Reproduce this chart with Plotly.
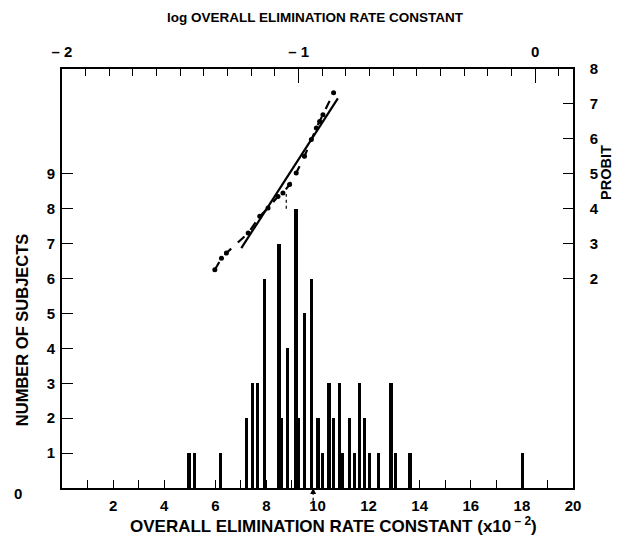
import plotly.graph_objects as go

# ---- data ----
# histogram: overall elimination rate constant (x10^-2) and number of subjects
rate_k = [4.97, 5.18, 6.21, 7.23, 7.45, 7.66, 7.92, 8.49, 8.60, 8.83, 9.16, 9.25,
          9.48, 9.76, 10.02, 10.20, 10.45, 10.63, 10.86, 10.99, 11.24, 11.45,
          11.65, 11.85, 12.04, 12.40, 12.88, 13.05, 13.62, 18.03]
n_subjects = [1, 1, 1, 2, 3, 3, 6, 7, 2, 4, 8, 2,
              5, 6, 2, 1, 3, 2, 3, 1, 2, 1,
              3, 2, 1, 1, 3, 1, 1, 1]

# probit plot (top log axis, right probit axis)
dot_log = [-1.326, -1.305, -1.213, -1.164, -1.129, -1.087, -1.066, -1.038,
           -1.010, -0.975, -0.946, -0.925, -0.911, -0.897]
dot_probit = [2.58, 2.73, 3.30, 3.78, 4.02, 4.35, 4.45, 4.69,
              5.02, 5.50, 5.98, 6.31, 6.50, 6.69]
dash_log = [-1.354] + dot_log + [-0.852]
dash_probit = [2.25] + dot_probit + [7.32]
fit_log = [-1.242, -0.834]
fit_probit = [2.87, 7.16]
mark_log = [-1.052, -1.052]
mark_probit = [4.0, 4.42]
mean_rate = 9.83

x_ticks = [2, 4, 6, 8, 10, 12, 14, 16, 18, 20]
x_minor = [1, 3, 5, 7, 9, 11, 13, 15, 17, 19]
y_ticks = [1, 2, 3, 4, 5, 6, 7, 8, 9]
probit_ticks = [2, 3, 4, 5, 6, 7, 8]
log_ticks = [-2, -1, 0]
log_ticktext = ["– 2", "– 1", "0"]
log_minor = [round(-2 + 0.1 * i, 1) for i in range(22)]

FONT = "Liberation Sans, Arial, sans-serif"

fig = go.Figure()
fig.add_trace(go.Bar(x=rate_k, y=n_subjects, width=0.13,
                     marker=dict(color="black", line=dict(width=0)),
                     xaxis="x", yaxis="y", showlegend=False))
fig.add_trace(go.Scatter(x=fit_log, y=fit_probit, mode="lines",
                         line=dict(color="black", width=2.2),
                         xaxis="x2", yaxis="y2", showlegend=False))
fig.add_trace(go.Scatter(x=dash_log, y=dash_probit, mode="lines+markers",
                         line=dict(color="black", width=2.2, dash="dash"),
                         marker=dict(color="black", size=5),
                         xaxis="x2", yaxis="y2", showlegend=False))
fig.add_trace(go.Scatter(x=mark_log, y=mark_probit, mode="lines",
                         line=dict(color="black", width=1.2, dash="dot"),
                         xaxis="x2", yaxis="y2", showlegend=False))

tickfont = dict(family=FONT, size=15, color="black", weight="bold")

# the page body adds an 8px offset, so the figure is 8px smaller than the window
fig.update_layout(
    width=618, height=531,
    margin=dict(l=54, r=53, t=61, b=51, autoexpand=False),
    paper_bgcolor="white", plot_bgcolor="white",
    bargap=0,
    xaxis=dict(range=[0, 20], tickmode="array", tickvals=x_ticks,
               ticks="inside", ticklen=8, tickwidth=1.3, tickcolor="black",
               minor=dict(tickmode="array", tickvals=x_minor, ticks="inside",
                          ticklen=8, tickwidth=1.3, tickcolor="black"),
               showline=True, linecolor="black", linewidth=1.6,
               showgrid=False, zeroline=False, tickfont=tickfont,
               ticklabelstandoff=3, automargin=False),
    xaxis2=dict(range=[-2, 0.16], overlaying="x", side="top", anchor="y",
                tickmode="array", tickvals=log_ticks, ticktext=log_ticktext,
                ticks="inside", ticklen=14, tickwidth=1.3, tickcolor="black",
                minor=dict(tickmode="array", tickvals=log_minor, ticks="inside",
                           ticklen=7, tickwidth=1.3, tickcolor="black"),
                showline=True, linecolor="black", linewidth=1.6,
                showgrid=False, zeroline=False, tickfont=tickfont,
                ticklabelstandoff=4, automargin=False),
    yaxis=dict(range=[0, 12], tickmode="array", tickvals=y_ticks,
               ticks="inside", ticklen=11, tickwidth=1.3, tickcolor="black",
               showline=True, linecolor="black", linewidth=1.6,
               showgrid=False, zeroline=False, tickfont=tickfont,
               ticklabelstandoff=2, automargin=False),
    yaxis2=dict(range=[-4, 8], overlaying="y", side="right", anchor="x",
                tickmode="array", tickvals=probit_ticks,
                ticks="inside", ticklen=10, tickwidth=1.3, tickcolor="black",
                showline=True, linecolor="black", linewidth=1.6,
                showgrid=False, zeroline=False, tickfont=tickfont,
                ticklabelstandoff=12, automargin=False),
)

def label(text, x, y, size, angle=0):
    fig.add_annotation(text=text, xref="paper", yref="paper", x=x, y=y,
                       xanchor="center", yanchor="middle", textangle=angle,
                       showarrow=False,
                       font=dict(family=FONT, size=size, color="black", weight="bold"))

label("log OVERALL ELIMINATION RATE CONSTANT", 0.497, 1.122, 13.5)
label("OVERALL ELIMINATION RATE CONSTANT (x10<sup> – 2</sup>)", 0.532, -0.089, 17)
label("NUMBER OF SUBJECTS", -0.078, 0.377, 16.5, -90)
label("PROBIT", 1.0646, 0.752, 14.5, -90)
label("0", -0.086, -0.012, 15)

# mean marker: dotted arrow below the axis
fig.add_shape(type="line", xref="x", yref="paper", x0=mean_rate, x1=mean_rate,
              y0=-0.045, y1=-0.01, line=dict(color="black", width=1.2, dash="dot"))
fig.add_annotation(x=mean_rate, y=0, xref="x", yref="y", ax=0, ay=6,
                   showarrow=True, arrowhead=2, arrowsize=1, arrowwidth=1.2,
                   arrowcolor="black", text="")

fig.write_html("out.html")
